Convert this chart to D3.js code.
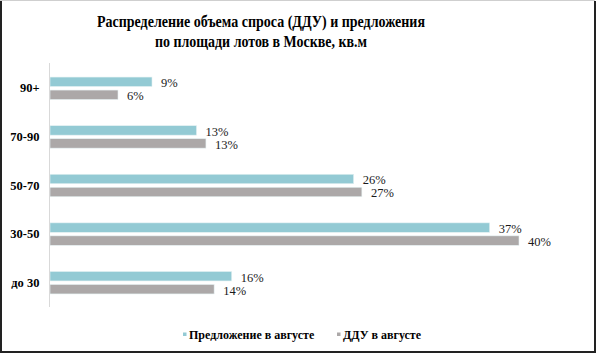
<!DOCTYPE html>
<html>
<head>
<meta charset="utf-8">
<title>Распределение объема спроса</title>
<script src="https://d3js.org/d3.v7.min.js"></script>
<style>
  body { margin: 0; background: #fff; }
  text { font-family: "Liberation Serif", "Times New Roman", serif; fill: #000; }
</style>
</head>
<body>
<div id="chart"></div>
<script>
// categories top to bottom
var categories = ["90+", "70-90", "50-70", "30-50", "до 30"];
var seriesNames = ["Предложение в августе", "ДДУ в августе"];
// values, labels as printed
var offerValues = [8.7, 12.5, 25.9, 37.5, 15.5];
var dduValues = [5.8, 13.3, 26.6, 40.0, 14.0];
var offerLabels = ["9%", "13%", "26%", "37%", "16%"];
var dduLabels = ["6%", "13%", "27%", "40%", "14%"];
var titleLines = ["Распределение объема спроса (ДДУ) и предложения", "по площади лотов в Москве, кв.м"];
var colors = ["#93cad4", "#aca8a8"];

var width = 597, height = 354;

var svg = d3.select("#chart").append("svg")
  .attr("width", width)
  .attr("height", height);

// frame
svg.append("rect")
  .attr("x", 0.5).attr("y", 0.5)
  .attr("width", width - 3).attr("height", height - 3)
  .attr("fill", "#fff")
  .attr("stroke", "#cfcfcf");
svg.append("path")
  .attr("d", "M1," + 1 + "V" + (height - 2) + "H" + (width - 2) + "V1")
  .attr("fill", "none")
  .attr("stroke", "#222")
  .attr("stroke-width", 2);

// title (the original font is narrower than Liberation Serif, so squeeze it)
var titleWidths = [328, 212];
svg.append("g").selectAll("text")
  .data(titleLines)
  .enter().append("text")
  .attr("x", 261)
  .attr("y", function(d, i) { return 27 + i * 19.5; })
  .attr("text-anchor", "middle")
  .attr("font-weight", "bold")
  .attr("font-size", 17)
  .attr("textLength", function(d, i) { return titleWidths[i]; })
  .attr("lengthAdjust", "spacingAndGlyphs")
  .text(function(d) { return d; });

var x = d3.scaleLinear().domain([0, 40]).range([50, 519]);
var y = d3.scaleBand().domain(categories).range([64, 307]);
var yInner = d3.scaleBand().domain(seriesNames).range([-11.25, 11.25]).paddingInner(0.27);

var rows = categories.map(function(c, i) {
  return { cat: c, vals: [
    { s: seriesNames[0], v: offerValues[i], label: offerLabels[i], color: colors[0] },
    { s: seriesNames[1], v: dduValues[i], label: dduLabels[i], color: colors[1] }
  ]};
});

var groups = svg.append("g").selectAll("g")
  .data(rows)
  .enter().append("g")
  .attr("transform", function(d) { return "translate(0," + (y(d.cat) + y.bandwidth() / 2) + ")"; });

groups.selectAll("rect")
  .data(function(d) { return d.vals; })
  .enter().append("rect")
  .attr("x", x(0))
  .attr("y", function(d) { return yInner(d.s); })
  .attr("width", function(d) { return x(d.v) - x(0); })
  .attr("height", yInner.bandwidth())
  .attr("fill", function(d) { return d.color; })
  .attr("stroke", "#e6f2f3")
  .attr("stroke-width", 0.6);

groups.selectAll("text.val")
  .data(function(d) { return d.vals; })
  .enter().append("text")
  .attr("class", "val")
  .attr("x", function(d) { return x(d.v) + 9; })
  .attr("y", function(d) { return yInner(d.s) + yInner.bandwidth() / 2 + 1; })
  .attr("dy", "0.35em")
  .attr("font-size", 12.5)
  .style("fill", "#1a1a1a")
  .text(function(d) { return d.label; });

// category axis
var yAxis = svg.append("g")
  .attr("transform", "translate(49.5,0)")
  .call(d3.axisLeft(y).tickSize(0).tickPadding(10));
yAxis.select(".domain").attr("stroke", "#d9d9d9").attr("d", "M0,63V307");
yAxis.selectAll("text")
  .attr("font-family", "Liberation Serif, serif")
  .attr("font-weight", "bold")
  .attr("font-size", 12.5)
  .attr("fill", "#000");

// legend
var legendX = [183, 337];
var legend = svg.append("g").selectAll("g")
  .data(seriesNames)
  .enter().append("g")
  .attr("transform", function(d, i) { return "translate(" + legendX[i] + ",335)"; });
legend.append("rect")
  .attr("x", 0).attr("y", -2.5)
  .attr("width", 3.5).attr("height", 3.5)
  .attr("fill", function(d, i) { return colors[i]; });
legend.append("text")
  .attr("x", 6)
  .attr("dy", "0.35em")
  .attr("font-weight", "bold")
  .attr("font-size", 12)
  .text(function(d) { return d; });
</script>
</body>
</html>
